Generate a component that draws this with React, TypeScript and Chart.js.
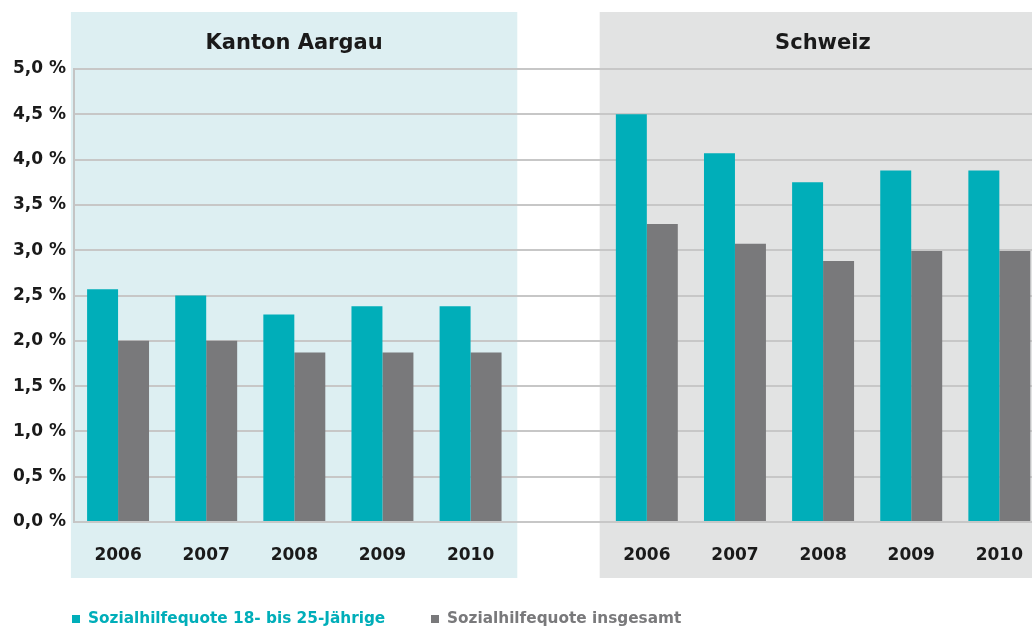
import React, { useEffect, useRef } from "react";
import { Chart, registerables } from "chart.js";

Chart.register(...registerables);

const categories = ["2006", "2007", "2008", "2009", "2010", "", "2006", "2007", "2008", "2009", "2010"];
const youthRate = [2.57, 2.5, 2.29, 2.38, 2.38, null, 4.5, 4.07, 3.75, 3.88, 3.88];
const totalRate = [2.0, 2.0, 1.87, 1.87, 1.87, null, 3.29, 3.07, 2.88, 2.99, 2.99];
const panelTitles = ["Kanton Aargau", "Schweiz"];
const seriesNames = ["Sozialhilfequote 18- bis 25-Jährige", "Sozialhilfequote insgesamt"];

const TEAL = "#00aeb9";
const GRAY = "#79797b";
const FONT = "'DejaVu Sans', sans-serif";

const panelPlugin = {
  id: "panels",
  beforeDraw(chart: any) {
    const { ctx, chartArea } = chart;
    const x = chart.scales.x;
    const cw = x.getPixelForValue(1) - x.getPixelForValue(0);
    const panels = [
      { from: 0, to: 4, color: "#ddeff2", title: panelTitles[0] },
      { from: 6, to: 10, color: "#e2e3e3", title: panelTitles[1] },
    ];
    ctx.save();
    for (const p of panels) {
      const l = x.getPixelForValue(p.from) - cw * 0.535;
      const r = x.getPixelForValue(p.to) + cw * 0.53;
      ctx.fillStyle = p.color;
      ctx.fillRect(l, 12, r - l, chartArea.bottom + 56 - 12);
      ctx.fillStyle = "#1a1a1a";
      ctx.font = `bold 21px ${FONT}`;
      ctx.textAlign = "center";
      ctx.textBaseline = "middle";
      ctx.fillText(p.title, (l + r) / 2, 44);
    }
    ctx.restore();
  },
  afterDraw(chart: any) {
    const { ctx } = chart;
    ctx.save();
    ctx.font = `bold 15.3px ${FONT}`;
    ctx.textBaseline = "middle";
    ctx.textAlign = "left";
    const items = [
      { x: 72, color: TEAL, text: seriesNames[0] },
      { x: 431, color: GRAY, text: seriesNames[1] },
    ];
    for (const it of items) {
      ctx.fillStyle = it.color;
      ctx.fillRect(it.x, 615, 8, 8);
      ctx.fillText(it.text, it.x + 16, 619);
    }
    ctx.restore();
  },
};

export default function App() {
  const ref = useRef<HTMLCanvasElement>(null);
  useEffect(() => {
    const chart = new Chart(ref.current as HTMLCanvasElement, {
      type: "bar",
      data: {
        labels: categories,
        datasets: [
          { label: seriesNames[0], data: youthRate as any, backgroundColor: TEAL, borderWidth: 0 },
          { label: seriesNames[1], data: totalRate as any, backgroundColor: GRAY, borderWidth: 0 },
        ],
      },
      options: {
        animation: false,
        responsive: false,
        devicePixelRatio: 1,
        layout: { padding: { top: 69, right: 0, bottom: 0, left: 0 } },
        datasets: { bar: { barPercentage: 1, categoryPercentage: 0.703 } },
        plugins: { legend: { display: false }, tooltip: { enabled: false }, title: { display: false } },
        scales: {
          x: {
            grid: { display: false, drawTicks: false },
            border: { display: false },
            ticks: { color: "#1a1a1a", font: { family: FONT, size: 17, weight: "bold" }, padding: 23, maxRotation: 0, autoSkip: false },
            afterFit(scale: any) { scale.height = 106; },
          },
          y: {
            min: 0,
            max: 5,
            grid: { color: "#c7c7c7", lineWidth: 2, drawTicks: false },
            border: { display: true, color: "#c4c4c4", width: 2 },
            ticks: {
              stepSize: 0.5,
              color: "#1a1a1a",
              padding: 8,
              font: { family: FONT, size: 17, weight: "bold" },
              callback: (v: any) => Number(v).toFixed(1).replace(".", ",") + " %",
            },
            afterFit(scale: any) { scale.width = 74; },
          },
        },
      },
      plugins: [panelPlugin],
    });
    return () => chart.destroy();
  }, []);
  return (
    <div style={{ position: "fixed", left: 0, top: 0, width: 1032, height: 628, overflow: "hidden", background: "#fff" }}>
      <canvas ref={ref} width={1046} height={628} style={{ display: "block" }} />
    </div>
  );
}
